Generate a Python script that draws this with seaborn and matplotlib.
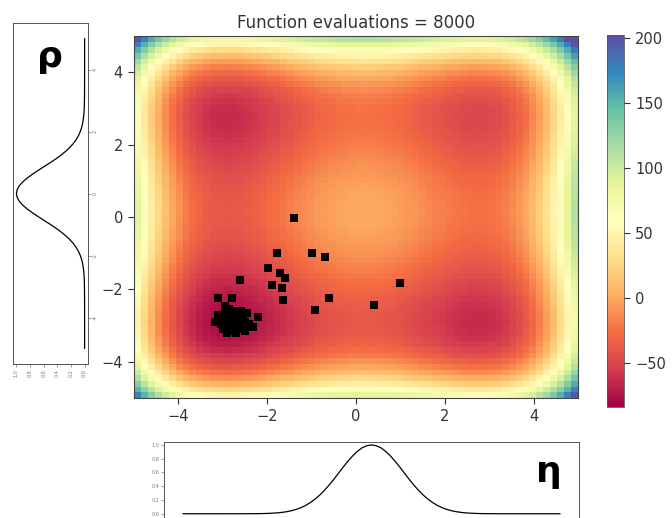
import numpy as np
import matplotlib
matplotlib.use("Agg")
import matplotlib.pyplot as plt
import seaborn as sns

# ---------------- data ----------------
title_text = "Function evaluations = 8000"
grid_lo, grid_hi, grid_n = -5.0, 5.0, 64
cbar_lo, cbar_hi = -84.0, 202.0
cbar_ticks = [-50, 0, 50, 100, 150, 200]
main_ticks = [-4, -2, 0, 2, 4]
panel_val_ticks = [0.0, 0.2, 0.4, 0.6, 0.8, 1.0]
panel_dom_ticks = [-4, -2, 0, 2, 4]

# sampled points (black squares)
pts_x = [-1.39, -1.79, -0.98, -0.70, -1.99, -1.71, -1.60, -1.90, -1.67, -2.61,
         0.99, -1.64, -0.60, -0.92, 0.41, -2.20, -2.31, -3.10, -2.80,
         -3.18, -3.05, -2.95, -2.90, -2.85, -2.80, -2.75, -2.70, -2.65, -2.60,
         -2.55, -2.50, -2.45, -3.00, -2.90, -2.80, -2.70, -2.95, -2.85, -2.75,
         -2.60, -3.10, -2.88, -2.92, -2.78, -2.68, -2.58, -3.02, -2.40, -2.50]
pts_y = [-0.04, -1.00, -1.00, -1.10, -1.42, -1.56, -1.69, -1.88, -1.97, -1.74,
         -1.83, -2.29, -2.25, -2.57, -2.43, -2.75, -3.03, -2.25, -2.25,
         -2.89, -2.95, -2.60, -2.75, -2.85, -3.00, -2.90, -2.80, -3.05, -2.95,
         -2.75, -2.90, -2.65, -3.10, -3.20, -3.15, -3.20, -2.45, -2.55, -2.60,
         -2.60, -2.70, -2.92, -3.00, -2.78, -2.95, -3.10, -2.82, -2.95, -3.15]

# marginal density curve
curve_x = [-5.0, -4.5, -4.0, -3.5, -3.25, -3.0, -2.875, -2.75, -2.625, -2.5,
           -2.375, -2.25, -2.125, -2.0, -1.875, -1.75, -1.625, -1.5, -1.375, -1.25,
           -1.125, -1.0, -0.875, -0.75, -0.625, -0.5, -0.375, -0.25, -0.125, 0.0,
           0.125, 0.25, 0.375, 0.5, 0.625, 0.75, 0.875, 1.0, 1.125, 1.25,
           1.375, 1.5, 1.625, 1.75, 1.875, 2.0, 2.125, 2.25, 2.375, 2.5,
           2.625, 2.75, 2.875, 3.0, 3.25, 3.5, 4.0, 4.5, 5.0]
curve_y = [0.0, 0.0, 0.0, 0.0002, 0.0007, 0.002, 0.0033, 0.0053, 0.0085, 0.013,
           0.0202, 0.030, 0.0439, 0.063, 0.0878, 0.120, 0.161, 0.211, 0.270, 0.339,
           0.416, 0.500, 0.589, 0.678, 0.763, 0.841, 0.907, 0.958, 0.989, 1.0,
           0.989, 0.958, 0.907, 0.841, 0.763, 0.678, 0.589, 0.500, 0.416, 0.339,
           0.270, 0.211, 0.161, 0.120, 0.0878, 0.063, 0.0439, 0.030, 0.0202, 0.013,
           0.0085, 0.0053, 0.0033, 0.002, 0.0007, 0.0002, 0.0, 0.0, 0.0]


def styblinski_tang(x, y):
    return 0.5 * ((x**4 - 16 * x**2 + 5 * x) + (y**4 - 16 * y**2 + 5 * y))


# ---------------- style ----------------
sns.set_style("ticks")
plt.rcParams["font.family"] = ["DejaVu Sans"]
text_col = "#333333"
plt.rcParams.update({
    "text.color": text_col,
    "axes.labelcolor": text_col,
    "xtick.color": text_col,
    "ytick.color": text_col,
    "axes.edgecolor": "#444444",
})

W, H = 672, 518
fig = plt.figure(figsize=(W / 100, H / 100), dpi=100)


def px_axes(x0, y0, x1, y1):
    return fig.add_axes([x0 / W, 1 - y1 / H, (x1 - x0) / W, (y1 - y0) / H])


# ---------------- main heat map ----------------
ax = px_axes(134, 36, 578, 398)
edges = np.linspace(grid_lo, grid_hi, grid_n + 1)
centers = 0.5 * (edges[:-1] + edges[1:])
XX, YY = np.meshgrid(centers, centers)
ZZ = styblinski_tang(XX, YY)
cmap = sns.color_palette("Spectral", as_cmap=True)
mesh = ax.pcolormesh(edges, edges, ZZ, cmap=cmap, vmin=cbar_lo, vmax=cbar_hi,
                     shading="flat", rasterized=True)
sns.scatterplot(x=pts_x, y=pts_y, marker="s", s=30, color="black",
                linewidth=0, ax=ax, legend=False, zorder=3)
ax.set_xlim(grid_lo, grid_hi)
ax.set_ylim(grid_lo, grid_hi)
ax.set_xticks(main_ticks)
ax.set_yticks(main_ticks)
ax.tick_params(labelsize=10.5, length=4, width=0.8, pad=4)
for sp in ax.spines.values():
    sp.set_linewidth(0.8)
ax.set_title(title_text, fontsize=12, color=text_col, pad=6)

# ---------------- colour bar ----------------
cax = px_axes(607, 35, 624, 407)
cb = fig.colorbar(mesh, cax=cax, ticks=cbar_ticks)
cb.outline.set_linewidth(0.6)
cb.outline.set_edgecolor("#555555")
cax.tick_params(labelsize=10.5, length=4, width=0.8, pad=4)

# ---------------- left panel (rho) ----------------
axl = px_axes(13, 23, 88, 364)
sns.lineplot(x=curve_y, y=curve_x, sort=False, estimator=None, color="black",
             linewidth=0.9, ax=axl)
axl.set_xlim(1.05, -0.05)
axl.set_ylim(-5.5, 5.5)
axl.set_xticks(panel_val_ticks)
axl.set_xticklabels([f"{v:.1f}" for v in panel_val_ticks], rotation=90)
axl.yaxis.tick_right()
axl.set_yticks(panel_dom_ticks)
axl.set_yticklabels([f"{v}" for v in panel_dom_ticks], rotation=90, va="center")
axl.tick_params(labelsize=3.5, length=2, width=0.5, pad=1.5, colors="#777777")
for sp in axl.spines.values():
    sp.set_linewidth(0.7)
    sp.set_edgecolor("#555555")

# ---------------- bottom panel (eta) ----------------
axb = px_axes(164, 441.5, 579, 521)
sns.lineplot(x=curve_x, y=curve_y, sort=False, estimator=None, color="black",
             linewidth=0.9, ax=axb)
axb.set_xlim(-5.5, 5.5)
axb.set_ylim(-0.105, 1.05)
axb.set_xticks([])
axb.set_yticks(panel_val_ticks)
axb.set_yticklabels([f"{v:.1f}" for v in panel_val_ticks])
axb.tick_params(labelsize=3.5, length=2, width=0.5, pad=1.5, colors="#777777")
for sp in axb.spines.values():
    sp.set_linewidth(0.7)
    sp.set_edgecolor("#555555")

# ---------------- big Greek labels ----------------
fig.text(50 / W, 1 - 57 / H, "ρ", fontsize=26, fontweight="bold",
         color="black", ha="center", va="center")
fig.text(549 / W, 1 - 472 / H, "η", fontsize=26, fontweight="bold",
         color="black", ha="center", va="center")

fig.savefig("out.png", dpi=100)
